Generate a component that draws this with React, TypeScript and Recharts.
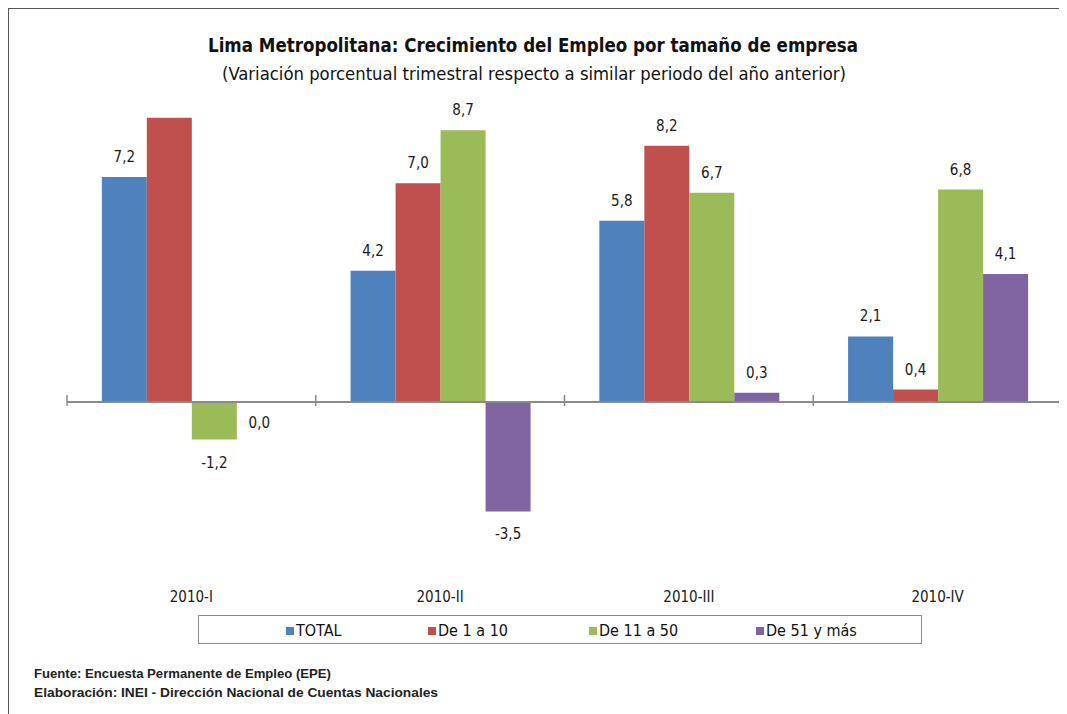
import React from 'react';
import { BarChart, Bar, XAxis, YAxis, ReferenceLine, LabelList } from 'recharts';

const categories = ['2010-I', '2010-II', '2010-III', '2010-IV'];
const total = [7.2, 4.2, 5.8, 2.1];
const de1a10 = [9.1, 7.0, 8.2, 0.4];
const de11a50 = [-1.2, 8.7, 6.7, 6.8];
const de51 = [0.0, -3.5, 0.3, 4.1];
const hiddenLabels: Record<string, number[]> = { de1a10: [0] };

const seriesNames = ['TOTAL', 'De 1 a 10', 'De 11 a 50', 'De 51 y más'];
const seriesKeys = ['total', 'de1a10', 'de11a50', 'de51'];
const seriesColors = ['#4F81BD', '#C0504D', '#9BBB59', '#8064A2'];

const data = categories.map((c, i) => ({
  cat: c,
  total: total[i],
  de1a10: de1a10[i],
  de11a50: de11a50[i],
  de51: de51[i],
}));

const NARROW = "'Liberation Sans Narrow', 'DejaVu Sans Condensed', 'Arial Narrow', sans-serif";
const W = 1058;
const H = 705;

const makeLabel = (key: string) => (props: any) => {
  const { x, y, width, height, value, index } = props;
  if ((hiddenLabels[key] || []).includes(index)) return null;
  const cx = x + width / 2;
  let ty: number;
  if (value > 0) {
    ty = Math.min(y, y + height) - 20;
  } else if (value < 0) {
    ty = Math.max(y, y + height) + 23;
  } else {
    ty = Math.max(y, y + height) + 21;
  }
  return (
    <text x={cx} y={ty} textAnchor="middle" dominantBaseline="central" fontFamily={NARROW} fontSize={15} fill="#1a1a1a">
      {Number(value).toFixed(1).replace('.', ',')}
    </text>
  );
};

const ZeroLine = (props: any) => {
  const { x1, x2, y1 } = props;
  const n = categories.length;
  const step = (x2 - x1) / n;
  const ticks = Array.from({ length: n + 1 }, (_, i) => x1 + i * step);
  return (
    <g>
      <line x1={x1} x2={x2} y1={y1} y2={y1} stroke="#8a8a8a" strokeWidth={1.8} />
      {ticks.map((t, i) => (
        <line key={i} x1={t} x2={t} y1={y1 - 7} y2={y1 + 4} stroke="#8a8a8a" strokeWidth={1.5} />
      ))}
    </g>
  );
};

export default function App() {
  return (
    <div style={{ position: 'relative', width: W, height: H, borderTop: '1px solid #555', borderLeft: '1px solid #555', overflow: 'hidden', background: '#fff' }}>
      <svg width={W} height={100} style={{ position: 'absolute', left: 0, top: 0 }}>
        <text x={524} y={36} textAnchor="middle" dominantBaseline="central" fontFamily={NARROW} fontWeight="bold" fontSize={19} fill="#111" textLength={650} lengthAdjust="spacingAndGlyphs">
          Lima Metropolitana: Crecimiento del Empleo por tamaño de empresa
        </text>
        <text x={525} y={64} textAnchor="middle" dominantBaseline="central" fontFamily={NARROW} fontSize={18} fill="#111" textLength={624} lengthAdjust="spacingAndGlyphs">
          (Variación porcentual trimestral respecto a similar periodo del año anterior)
        </text>
      </svg>
      <div style={{ position: 'absolute', left: 0, top: 0 }}>
        <BarChart width={W} height={H} data={data} margin={{ top: 80.5, right: 5, bottom: 94.5, left: 58 }} barCategoryGap="14%" barGap={0}>
          <YAxis hide domain={[-6, 10]} type="number" allowDataOverflow />
          <XAxis dataKey="cat" height={30} axisLine={false} tickLine={false} tickSize={0} tickMargin={2} tick={{ fontFamily: NARROW, fontSize: 15, fill: '#1a1a1a' }} />
          {seriesKeys.map((k, i) => (
            <Bar key={k} dataKey={k} fill={seriesColors[i]} isAnimationActive={false} minPointSize={1}>
              <LabelList dataKey={k} content={makeLabel(k)} />
            </Bar>
          ))}
          <ReferenceLine y={0} shape={ZeroLine} />
        </BarChart>
      </div>
      <div style={{ position: 'absolute', left: 189, top: 606, width: 724, height: 29, border: '1.5px solid #8c8c8c', boxSizing: 'border-box' }} />
      {seriesNames.map((n, i) => {
        const lefts = [277, 419, 580, 747];
        return (
          <div key={n} style={{ position: 'absolute', left: lefts[i], top: 612, display: 'flex', alignItems: 'center', fontFamily: NARROW, fontSize: 16, color: '#111', whiteSpace: 'nowrap' }}>
            <span style={{ display: 'inline-block', width: 8, height: 8, background: seriesColors[i], marginRight: 2 }} />
            <span>{n}</span>
          </div>
        );
      })}
      <svg width={500} height={60} style={{ position: 'absolute', left: 0, top: 650 }}>
        <text x={25} y={14} dominantBaseline="central" fontFamily="'Liberation Sans', Arial, sans-serif" fontWeight="bold" fontSize={13} fill="#222" textLength={297} lengthAdjust="spacingAndGlyphs">
          Fuente: Encuesta Permanente de Empleo (EPE)
        </text>
        <text x={25} y={33} dominantBaseline="central" fontFamily="'Liberation Sans', Arial, sans-serif" fontWeight="bold" fontSize={13} fill="#222" textLength={404} lengthAdjust="spacingAndGlyphs">
          Elaboración: INEI - Dirección Nacional de Cuentas Nacionales
        </text>
      </svg>
    </div>
  );
}
